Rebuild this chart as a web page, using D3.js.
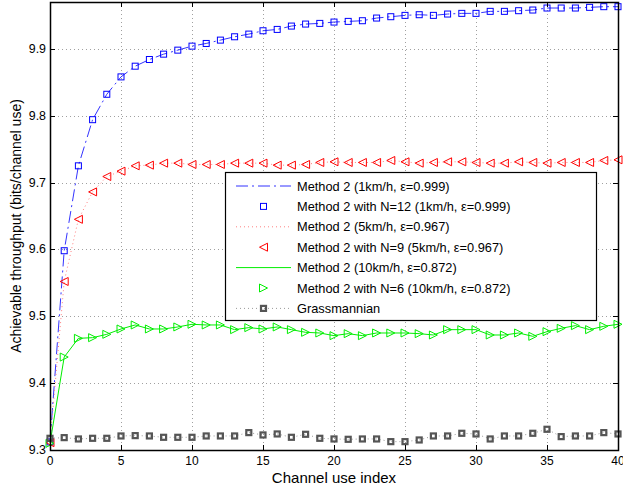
<!DOCTYPE html>
<html>
<head>
<meta charset="utf-8">
<script src="https://cdn.jsdelivr.net/npm/d3@7"></script>
<style>
  html, body { margin: 0; padding: 0; background: #fff; }
  svg { display: block; font-family: "Liberation Sans", Arial, Helvetica, sans-serif; }
</style>
</head>
<body>
<svg id="chart" width="623" height="486"></svg>
<script>
// Channel use index 0..40
const channelIndex = d3.range(0, 41);

// Method 2 with N=12 (1 km/h, eps=0.999)
const blueN12 = [9.312, 9.598, 9.725, 9.794, 9.832, 9.858, 9.874, 9.884, 9.892, 9.898,
  9.904, 9.908, 9.913, 9.918, 9.922, 9.927, 9.929, 9.934, 9.937, 9.938,
  9.940, 9.941, 9.942, 9.946, 9.948, 9.950, 9.951, 9.950, 9.952, 9.953,
  9.953, 9.956, 9.956, 9.957, 9.958, 9.961, 9.961, 9.961, 9.962, 9.963, 9.963];
// Method 2 (1 km/h, eps=0.999)
const blueLine = blueN12.slice();

// Method 2 with N=9 (5 km/h, eps=0.967)
const redN9 = [9.311, 9.552, 9.645, 9.686, 9.709, 9.717, 9.725, 9.726, 9.729, 9.729,
  9.727, 9.727, 9.727, 9.729, 9.729, 9.729, 9.726, 9.726, 9.727, 9.730,
  9.731, 9.730, 9.730, 9.730, 9.733, 9.731, 9.729, 9.730, 9.731, 9.731,
  9.730, 9.729, 9.729, 9.731, 9.730, 9.729, 9.730, 9.730, 9.730, 9.733, 9.734];
// Method 2 (5 km/h, eps=0.967)
const redLine = redN9.slice();

// Method 2 with N=6 (10 km/h, eps=0.872)
const greenN6 = [9.310, 9.439, 9.467, 9.468, 9.473, 9.481, 9.487, 9.481, 9.481, 9.484,
  9.488, 9.487, 9.487, 9.480, 9.483, 9.481, 9.484, 9.480, 9.476, 9.475,
  9.471, 9.474, 9.471, 9.475, 9.475, 9.475, 9.474, 9.472, 9.480, 9.480,
  9.480, 9.472, 9.472, 9.475, 9.470, 9.477, 9.482, 9.486, 9.480, 9.485, 9.488];
// Method 2 (10 km/h, eps=0.872)
const greenLine = greenN6.slice();

// Grassmannian codebook
const grassmannian = [9.3175, 9.3185, 9.3165, 9.3175, 9.3175, 9.321, 9.3215, 9.321, 9.319, 9.319,
  9.319, 9.321, 9.321, 9.321, 9.326, 9.3225, 9.324, 9.319, 9.3235, 9.3175,
  9.3165, 9.316, 9.3165, 9.3165, 9.3125, 9.3125, 9.315, 9.321, 9.321, 9.325,
  9.324, 9.3165, 9.321, 9.321, 9.325, 9.331, 9.320, 9.321, 9.321, 9.326, 9.324];

const xTicks = [0, 5, 10, 15, 20, 25, 30, 35, 40];
const yTicks = [9.3, 9.4, 9.5, 9.6, 9.7, 9.8, 9.9];
const xDomain = [0, 40];
const yDomain = [9.3, 9.97];

const legendLabels = [
  "Method 2 (1km/h, \u03b5=0.999)",
  "Method 2 with N=12 (1km/h, \u03b5=0.999)",
  "Method 2 (5km/h, \u03b5=0.967)",
  "Method 2 with N=9 (5km/h, \u03b5=0.967)",
  "Method 2 (10km/h, \u03b5=0.872)",
  "Method 2 with N=6 (10km/h, \u03b5=0.872)",
  "Grassmannian"
];

const svg = d3.select("#chart");
const plot = { left: 50, right: 618, top: 2, bottom: 450 };

const x = d3.scaleLinear().domain(xDomain).range([plot.left, plot.right]);
const y = d3.scaleLinear().domain(yDomain).range([plot.bottom, plot.top]);

// grid lines
const grid = svg.append("g").attr("stroke", "#a0a0a0").attr("stroke-width", 1)
  .attr("stroke-dasharray", "1,3");
xTicks.filter(t => t > xDomain[0] && t < xDomain[1]).forEach(t => {
  grid.append("line").attr("x1", x(t) + 0.5).attr("x2", x(t) + 0.5)
    .attr("y1", plot.top).attr("y2", plot.bottom);
});
yTicks.filter(t => t > yDomain[0]).forEach(t => {
  grid.append("line").attr("x1", plot.left).attr("x2", plot.right)
    .attr("y1", Math.round(y(t)) + 0.5).attr("y2", Math.round(y(t)) + 0.5);
});

const data = arr => arr.map((v, i) => [channelIndex[i], v]);
const line = d3.line().x(d => x(d[0])).y(d => y(d[1]));

const layer = svg.append("g");

// symbol painters
function square(g, cx, cy, s, color, sw) {
  g.append("rect").attr("x", cx - s / 2).attr("y", cy - s / 2)
    .attr("width", s).attr("height", s)
    .attr("fill", "none").attr("stroke", color).attr("stroke-width", sw);
}
function triLeft(g, cx, cy, s, color) {
  const h = s / 2;
  g.append("path").attr("d", `M${cx - h},${cy} L${cx + h},${cy - h} L${cx + h},${cy + h} Z`)
    .attr("fill", "none").attr("stroke", color).attr("stroke-width", 1);
}
function triRight(g, cx, cy, s, color) {
  const h = s / 2;
  g.append("path").attr("d", `M${cx + h},${cy} L${cx - h},${cy - h} L${cx - h},${cy + h} Z`)
    .attr("fill", "none").attr("stroke", color).attr("stroke-width", 1);
}

const styles = {
  blueLine: { color: "#3333ff", dash: "12,4,2,4", width: 1 },
  redLine: { color: "#ff8080", dash: "1,3", width: 1 },
  greenLine: { color: "#00ee00", dash: null, width: 1 },
  grass: { color: "#9a9a9a", dash: "1,3", width: 1 }
};

function drawLine(arr, st) {
  const p = layer.append("path").datum(data(arr)).attr("d", line)
    .attr("fill", "none").attr("stroke", st.color).attr("stroke-width", st.width);
  if (st.dash) p.attr("stroke-dasharray", st.dash);
}

// series in plot order
drawLine(blueLine, styles.blueLine);
const blueMarks = layer.append("g");
data(blueN12).forEach(d => square(blueMarks, x(d[0]), y(d[1]), 6, "#0000ff", 1));

drawLine(redLine, styles.redLine);
const redMarks = layer.append("g");
data(redN9).forEach(d => triLeft(redMarks, x(d[0]), y(d[1]), 8, "#ff0000"));

drawLine(greenLine, styles.greenLine);
const greenMarks = layer.append("g");
data(greenN6).forEach(d => triRight(greenMarks, x(d[0]), y(d[1]), 8, "#00ee00"));

drawLine(grassmannian, styles.grass);
const grassMarks = layer.append("g");
data(grassmannian).forEach(d => square(grassMarks, x(d[0]), y(d[1]), 5, "#555555", 2.2));

// axes box and ticks
const axes = svg.append("g");
axes.append("rect").attr("x", plot.left + 0.5).attr("y", plot.top + 0.5)
  .attr("width", plot.right - plot.left).attr("height", plot.bottom - plot.top)
  .attr("fill", "none").attr("stroke", "#000").attr("stroke-width", 1.5);

const tickLen = 5;
xTicks.forEach(t => {
  const px = x(t) + 0.5;
  axes.append("line").attr("x1", px).attr("x2", px).attr("y1", plot.bottom).attr("y2", plot.bottom - tickLen).attr("stroke", "#000");
  axes.append("line").attr("x1", px).attr("x2", px).attr("y1", plot.top).attr("y2", plot.top + tickLen).attr("stroke", "#000");
  axes.append("text").attr("x", x(t)).attr("y", plot.bottom + 15)
    .attr("text-anchor", "middle").attr("font-size", 12).attr("fill", "#000").text(d3.format("d")(t));
});
yTicks.forEach(t => {
  const py = Math.round(y(t)) + 0.5;
  axes.append("line").attr("x1", plot.left).attr("x2", plot.left + tickLen).attr("y1", py).attr("y2", py).attr("stroke", "#000");
  axes.append("line").attr("x1", plot.right).attr("x2", plot.right - tickLen).attr("y1", py).attr("y2", py).attr("stroke", "#000");
  axes.append("text").attr("x", plot.left - 4).attr("y", y(t) + 4)
    .attr("text-anchor", "end").attr("font-size", 12.4).attr("fill", "#000").text(d3.format(".1f")(t));
});

// axis titles
svg.append("text").attr("x", (plot.left + plot.right) / 2).attr("y", 482.5)
  .attr("text-anchor", "middle").attr("font-size", 15).attr("fill", "#000").text("Channel use index");
svg.append("text").attr("transform", `translate(21,${(plot.top + plot.bottom) / 2}) rotate(-90)`)
  .attr("text-anchor", "middle").attr("font-size", 14).attr("fill", "#000")
  .text("Achievable throughput (bits/channel use)");

// legend
const lg = svg.append("g");
const box = { x: 225, y: 172, w: 371, h: 148 };
lg.append("rect").attr("x", box.x + 0.5).attr("y", box.y + 0.5).attr("width", box.w).attr("height", box.h)
  .attr("fill", "#fff").attr("stroke", "#000").attr("stroke-width", 1.2);

const rowY = i => box.y + 14 + i * 20.4;
const sx1 = 236, sx2 = 291, sxm = 263.5, tx = 297;
legendLabels.forEach((lab, i) => {
  const cy = rowY(i);
  lg.append("text").attr("x", tx).attr("y", cy + 4.5).attr("font-size", 12.8).attr("fill", "#000").text(lab);
});
function legLine(i, st) {
  const l = lg.append("line").attr("x1", sx1).attr("x2", sx2).attr("y1", rowY(i)).attr("y2", rowY(i))
    .attr("stroke", st.color).attr("stroke-width", st.width);
  if (st.dash) l.attr("stroke-dasharray", st.dash);
}
legLine(0, styles.blueLine);
square(lg, sxm, rowY(1), 6, "#0000ff", 1);
legLine(2, styles.redLine);
triLeft(lg, sxm, rowY(3), 8, "#ff0000");
legLine(4, styles.greenLine);
triRight(lg, sxm, rowY(5), 8, "#00ee00");
legLine(6, styles.grass);
square(lg, sxm, rowY(6), 5, "#555555", 2.2);
</script>
</body>
</html>
